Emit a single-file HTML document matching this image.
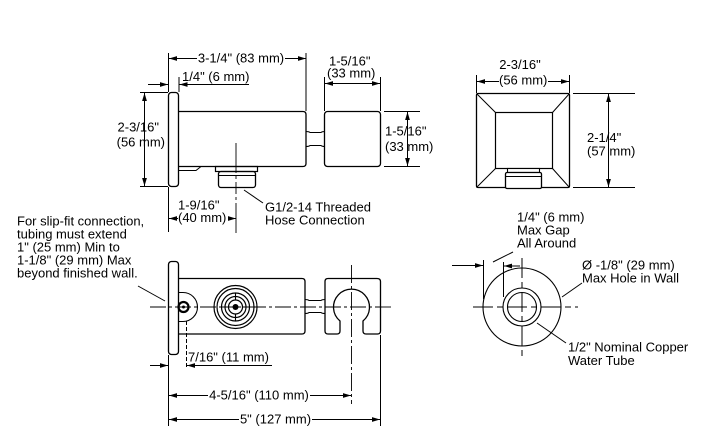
<!DOCTYPE html>
<html><head><meta charset="utf-8"><style>
html,body{margin:0;padding:0;background:#fff;}
svg{display:block;}
text{font-family:"Liberation Sans",Arial,sans-serif;font-size:13px;fill:#000;}
</style></head><body>
<svg width="721" height="437" viewBox="0 0 721 437" xmlns="http://www.w3.org/2000/svg">
<defs>
<marker id="a" markerWidth="8" markerHeight="6" refX="8" refY="3" orient="auto" markerUnits="userSpaceOnUse"><path d="M0,0.6 L8,3 L0,5.4z" fill="#000"/></marker>
</defs>
<g stroke="#000" stroke-width="1" fill="none">
<!-- TOP SIDE VIEW -->
<rect x="168.5" y="92.5" width="10" height="94" rx="3" stroke-width="1.3"/>
<path d="M178.5,111.5 H303 Q306,111.5 306,114.5 V163.5 Q306,166.5 303,166.5 H178.5" stroke-width="1.3"/>
<path d="M178.5,170.5 H196 L201,166.5"/>
<rect x="215.5" y="166.5" width="42" height="5" stroke-width="1.2"/>
<rect x="218.5" y="171.5" width="37" height="16" rx="2.5" stroke-width="1.3"/>
<line x1="219" y1="175.5" x2="255" y2="175.5"/>
<path d="M306,131.5 Q309,131.5 310,132.5 H321 Q322,131.5 325,131.5 M306,146.5 Q309,146.5 310,145.5 H321 Q322,146.5 325,146.5" stroke-width="1.1"/>
<rect x="324.5" y="111.5" width="56" height="55" rx="3" stroke-width="1.3"/>
<line x1="236" y1="143" x2="236" y2="233" stroke-width="0.9" stroke-dasharray="30,3,3,3,12,3,3,3"/>

<!-- top dims -->
<line x1="168.5" y1="53" x2="168.5" y2="92"/>
<line x1="306" y1="53" x2="306" y2="111"/>
<line x1="197" y1="58.5" x2="169" y2="58.5" marker-end="url(#a)"/>
<line x1="285" y1="58.5" x2="306" y2="58.5" marker-end="url(#a)"/>
<line x1="179" y1="77" x2="179" y2="92"/>
<line x1="249" y1="84.5" x2="179.5" y2="84.5" marker-end="url(#a)"/>
<line x1="148" y1="84.5" x2="168" y2="84.5" marker-end="url(#a)"/>
<line x1="140" y1="92.5" x2="168" y2="92.5"/>
<line x1="140" y1="186.5" x2="168" y2="186.5"/>
<line x1="144.5" y1="100" x2="144.5" y2="93" marker-end="url(#a)"/>
<line x1="144.5" y1="100" x2="144.5" y2="186" marker-end="url(#a)"/>
<line x1="324.5" y1="77" x2="324.5" y2="111"/>
<line x1="380.5" y1="77" x2="380.5" y2="111"/>
<line x1="352" y1="83.5" x2="325" y2="83.5" marker-end="url(#a)"/>
<line x1="352" y1="83.5" x2="380" y2="83.5" marker-end="url(#a)"/>
<line x1="384" y1="111.5" x2="420" y2="111.5"/>
<line x1="384" y1="166.5" x2="420" y2="166.5"/>
<line x1="407.5" y1="140" x2="407.5" y2="112" marker-end="url(#a)"/>
<line x1="407.5" y1="140" x2="407.5" y2="166" marker-end="url(#a)"/>
<line x1="168.5" y1="187" x2="168.5" y2="232"/>
<line x1="178" y1="218.5" x2="169" y2="218.5" marker-end="url(#a)"/>
<line x1="228" y1="218.5" x2="236" y2="218.5" marker-end="url(#a)"/>
<line x1="244" y1="190" x2="263" y2="203"/>

<!-- FRONT VIEW TOP RIGHT -->
<rect x="476.5" y="93.5" width="93" height="94" rx="1.5" stroke-width="1.3"/>
<rect x="495.5" y="112.5" width="57" height="56" stroke-width="1.2"/>
<path d="M476.5,93.5 L495.5,112.5 M569.5,93.5 L552.5,112.5 M476.5,187.5 L495.5,168.5 M569.5,187.5 L552.5,168.5"/>
<rect x="507.5" y="168.5" width="32" height="4" fill="#fff" stroke-width="1.1"/>
<rect x="505.5" y="172.5" width="36" height="16" rx="1.5" fill="#fff" stroke-width="1.3"/>
<line x1="506" y1="176.5" x2="541" y2="176.5"/>
<line x1="476.5" y1="75" x2="476.5" y2="93"/>
<line x1="569.5" y1="75" x2="569.5" y2="93"/>
<line x1="499" y1="81.5" x2="477" y2="81.5" marker-end="url(#a)"/>
<line x1="548" y1="81.5" x2="569" y2="81.5" marker-end="url(#a)"/>
<line x1="573" y1="93.5" x2="635" y2="93.5"/>
<line x1="573" y1="187.5" x2="635" y2="187.5"/>
<line x1="608.5" y1="140" x2="608.5" y2="94" marker-end="url(#a)"/>
<line x1="608.5" y1="140" x2="608.5" y2="187" marker-end="url(#a)"/>

<!-- BOTTOM LEFT VIEW -->
<rect x="168.5" y="261.5" width="10" height="93" rx="3" stroke-width="1.3"/>
<path d="M178.5,278.5 H302 Q305,278.5 305,281.5 V331 Q305,334 302,334 H178.5" stroke-width="1.3"/>
<path d="M178.5,292.5 H183 A14.5,14.5 0 0 1 183,321.5 H178.5" stroke-width="1.1"/>
<circle cx="183.5" cy="307" r="5" stroke-width="2.2"/>
<circle cx="183.5" cy="307" r="1.5" fill="#000" stroke="none"/>
<circle cx="235.5" cy="307" r="21.5" stroke-width="1.2"/>
<circle cx="235.5" cy="307" r="18.5" stroke-width="1.2"/>
<circle cx="235.5" cy="307" r="14" stroke-width="1.2"/>
<circle cx="235.5" cy="307" r="10.5" stroke-width="1.2"/>
<circle cx="235.5" cy="307" r="7" stroke-width="1.2"/>
<circle cx="235.5" cy="307" r="3" fill="#000" stroke="none"/>
<path d="M235.5,293 V300 M235.5,314 V321 M221.5,307 H228.5 M242.5,307 H249.5" stroke-width="1.1"/>
<path d="M305,299.5 Q308,299.5 309,300.5 H321 Q322,299.5 325,299.5 M305,313.5 Q308,313.5 309,312.5 H321 Q322,313.5 325,313.5" stroke-width="1.1"/>
<path d="M328,278.5 H377 Q380.5,278.5 380.5,281.5 V331 Q380.5,334 377.5,334 H366 Q363,334 363,331 V321 A18,18 0 1 0 340,321 V331 Q340,334 337,334 H328 Q325,334 325,331 V281.5 Q325,278.5 328,278.5 Z" stroke-width="1.3"/>
<line x1="150" y1="307" x2="394" y2="307" stroke-width="0.9" stroke-dasharray="16,3,3,3"/>
<line x1="351.5" y1="265" x2="351.5" y2="404" stroke-width="0.9" stroke-dasharray="18,3,3,3"/>
<line x1="138" y1="286" x2="165" y2="301"/>
<line x1="186.5" y1="321" x2="186.5" y2="369" stroke-dasharray="4,2"/>
<line x1="272" y1="365.5" x2="187" y2="365.5" marker-end="url(#a)"/>
<line x1="150" y1="365.5" x2="168" y2="365.5" marker-end="url(#a)"/>
<line x1="168.5" y1="355" x2="168.5" y2="426"/>
<line x1="380.5" y1="335" x2="380.5" y2="426"/>
<line x1="208" y1="395.5" x2="169" y2="395.5" marker-end="url(#a)"/>
<line x1="310" y1="395.5" x2="351" y2="395.5" marker-end="url(#a)"/>
<line x1="239" y1="419.5" x2="169" y2="419.5" marker-end="url(#a)"/>
<line x1="312" y1="419.5" x2="380" y2="419.5" marker-end="url(#a)"/>

<!-- BOTTOM RIGHT VIEW -->
<circle cx="522" cy="307" r="39" stroke-width="1.1"/>
<circle cx="522" cy="307" r="19" stroke-width="1.1"/>
<circle cx="522" cy="307" r="14.5" stroke-width="1.1"/>
<line x1="473" y1="307" x2="578" y2="307" stroke-dasharray="20,4,6,4"/>
<line x1="522" y1="258" x2="522" y2="357" stroke-dasharray="20,4,6,4"/>
<line x1="483.5" y1="260" x2="483.5" y2="299"/>
<line x1="503.5" y1="262" x2="503.5" y2="297"/>
<line x1="452" y1="265.5" x2="483" y2="265.5" marker-end="url(#a)"/>
<line x1="520" y1="266" x2="504" y2="266" marker-end="url(#a)"/>
<line x1="493" y1="262" x2="513" y2="252"/>
<line x1="562" y1="297" x2="582" y2="283"/>
<line x1="537" y1="323" x2="566" y2="343"/>
</g>

<!-- TEXT -->
<text x="241" y="62.5" text-anchor="middle">3-1/4" (83 mm)</text>
<text x="182" y="81">1/4" (6 mm)</text>
<text x="329" y="65.5">1-5/16"</text>
<text x="327" y="77.5">(33 mm)</text>
<text x="385" y="135.5">1-5/16"</text>
<text x="385" y="151">(33 mm)</text>
<text x="159" y="131.5" text-anchor="end">2-3/16"</text>
<text x="165" y="146.5" text-anchor="end">(56 mm)</text>
<text x="178" y="209.5">1-9/16"</text>
<text x="178" y="222">(40 mm)</text>
<text x="265" y="211.5">G1/2-14 Threaded</text>
<text x="265" y="224.5">Hose Connection</text>

<text x="520" y="69" text-anchor="middle">2-3/16"</text>
<text x="499" y="84.5">(56 mm)</text>
<text x="587" y="142">2-1/4"</text>
<text x="587" y="155.5">(57 mm)</text>

<text x="17" y="225.5">For slip-fit connection,</text>
<text x="17" y="238.5">tubing must extend</text>
<text x="17" y="251.5">1" (25 mm) Min to</text>
<text x="17" y="264.5">1-1/8" (29 mm) Max</text>
<text x="17" y="277.5">beyond finished wall.</text>
<text x="188" y="361.5">7/16" (11 mm)</text>
<text x="259" y="399.5" text-anchor="middle">4-5/16" (110 mm)</text>
<text x="275.5" y="423.5" text-anchor="middle">5" (127 mm)</text>

<text x="517" y="221.5">1/4" (6 mm)</text>
<text x="517" y="234.5">Max Gap</text>
<text x="517" y="247.5">All Around</text>
<text x="582" y="269.5">Ø -1/8" (29 mm)</text>
<text x="582" y="282.5">Max Hole in Wall</text>
<text x="568" y="351.5">1/2" Nominal Copper</text>
<text x="568" y="365">Water Tube</text>
</svg>
</body></html>
